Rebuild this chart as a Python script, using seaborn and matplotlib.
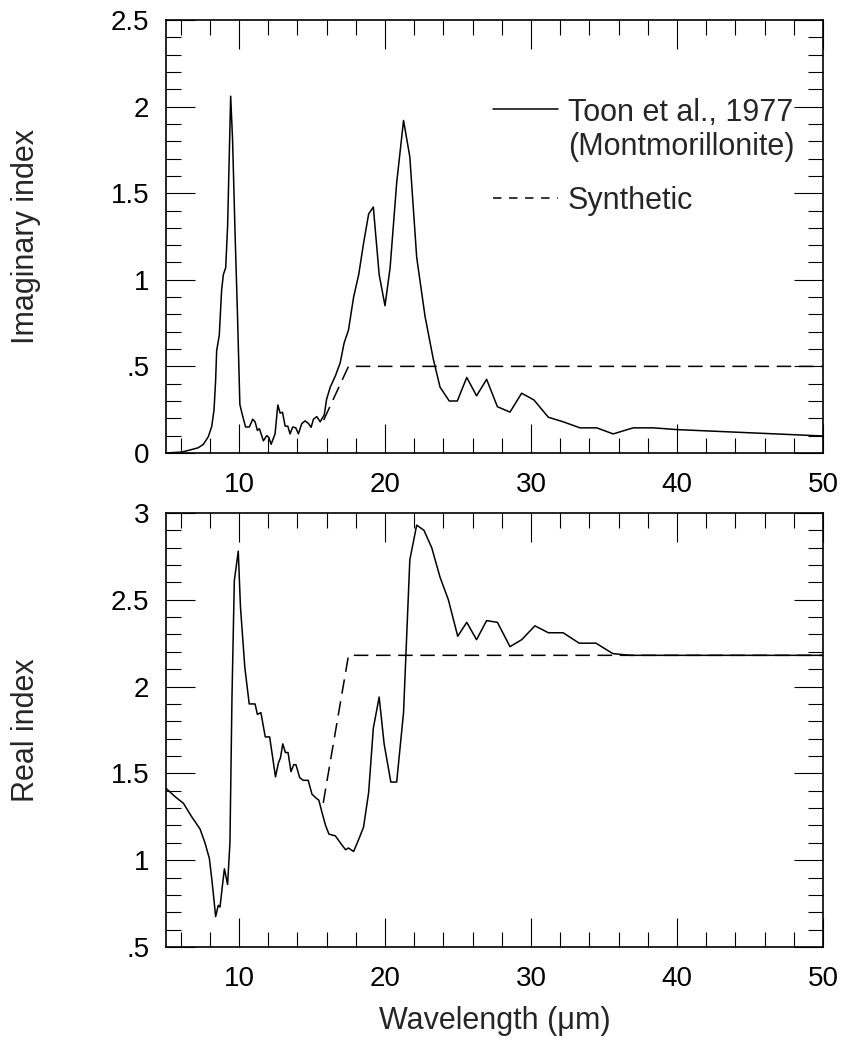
import numpy as np
import pandas as pd
import matplotlib
matplotlib.use("Agg")
import matplotlib.pyplot as plt
from matplotlib.ticker import MultipleLocator, FuncFormatter
from matplotlib.lines import Line2D
import seaborn as sns

# ---------------- data ----------------
imag_wl = [5.0, 6.07, 6.64, 7.21, 7.56, 7.9, 8.13, 8.29, 8.4, 8.47, 8.65, 8.81, 8.93, 9.09,
           9.22, 9.43, 9.56, 9.73, 9.89, 10.06, 10.23, 10.45, 10.71, 10.94, 11.1, 11.26, 11.4,
           11.67, 11.9, 12.04, 12.2, 12.47, 12.66, 12.82, 12.98, 13.16, 13.34, 13.5, 13.68,
           13.89, 14.07, 14.3, 14.53, 14.76, 14.94, 15.1, 15.33, 15.56, 15.84, 16.0, 16.25,
           16.6, 16.93, 17.2, 17.5, 17.85, 18.2, 18.53, 18.88, 19.2, 19.6, 20.0, 20.35, 20.8,
           21.27, 21.7, 22.17, 22.74, 23.3, 23.77, 24.4, 24.95, 25.6, 26.27, 26.96, 27.7,
           28.56, 29.36, 30.2, 31.19, 32.2, 33.35, 34.5, 35.63, 37.0, 38.38, 39.97, 50.0]
imag_toon = [0.0, 0.005, 0.017, 0.03, 0.05, 0.094, 0.152, 0.248, 0.42, 0.59, 0.68, 0.94, 1.03,
             1.07, 1.31, 2.06, 1.81, 1.27, 0.82, 0.28, 0.22, 0.15, 0.15, 0.195, 0.18, 0.13, 0.14,
             0.07, 0.10, 0.09, 0.05, 0.11, 0.277, 0.23, 0.235, 0.155, 0.155, 0.11, 0.15, 0.145,
             0.11, 0.17, 0.185, 0.17, 0.148, 0.195, 0.21, 0.18, 0.22, 0.31, 0.38, 0.445, 0.52,
             0.635, 0.71, 0.90, 1.03, 1.21, 1.38, 1.42, 1.03, 0.85, 1.07, 1.56, 1.92, 1.71, 1.13,
             0.79, 0.545, 0.38, 0.30, 0.30, 0.436, 0.33, 0.425, 0.267, 0.236, 0.345, 0.306,
             0.206, 0.18, 0.145, 0.145, 0.11, 0.145, 0.145, 0.135, 0.098]
imag_syn_wl = [15.8, 17.5, 50.0]
imag_syn = [0.19, 0.5, 0.5]

real_wl = [5.0, 5.62, 6.19, 6.76, 7.33, 7.67, 7.97, 8.13, 8.24, 8.4, 8.58, 8.7, 8.86, 9.0,
           9.22, 9.38, 9.52, 9.68, 9.95, 10.1, 10.4, 10.7, 11.1, 11.26, 11.5, 11.8, 12.1,
           12.5, 12.7, 12.84, 13.0, 13.18, 13.36, 13.56, 13.75, 13.9, 14.16, 14.4, 14.74,
           15.0, 15.25, 15.47, 15.7, 15.93, 16.16, 16.6, 16.94, 17.3, 17.5, 17.85, 18.2,
           18.53, 18.88, 19.2, 19.6, 19.94, 20.4, 20.8, 21.27, 21.7, 22.17, 22.67, 23.2,
           23.77, 24.34, 24.98, 25.6, 26.27, 26.96, 27.7, 28.56, 29.36, 30.27, 31.19, 32.2,
           33.3, 34.45, 35.6, 36.77, 50.0]
real_toon = [1.414, 1.366, 1.328, 1.25, 1.18, 1.10, 1.01, 0.896, 0.81, 0.675, 0.74, 0.73,
             0.85, 0.95, 0.86, 1.10, 1.94, 2.61, 2.78, 2.46, 2.11, 1.90, 1.90, 1.84, 1.85,
             1.71, 1.71, 1.48, 1.56, 1.59, 1.67, 1.62, 1.62, 1.51, 1.55, 1.55, 1.475, 1.46,
             1.46, 1.38, 1.36, 1.345, 1.27, 1.20, 1.15, 1.14, 1.10, 1.06, 1.07, 1.05, 1.12,
             1.19, 1.39, 1.76, 1.94, 1.67, 1.45, 1.45, 1.85, 2.73, 2.93, 2.90, 2.80, 2.63,
             2.50, 2.29, 2.37, 2.27, 2.38, 2.37, 2.23, 2.27, 2.35, 2.31, 2.31, 2.25, 2.25,
             2.19, 2.18, 2.18]
real_syn_wl = [15.77, 17.5, 50.0]
real_syn = [1.33, 2.18, 2.18]

legend_labels = ["Toon et al., 1977", "(Montmorillonite)", "Synthetic"]
xlabel = "Wavelength (\u03bcm)"
ylabels = ["Imaginary index", "Real index"]

# ---------------- style ----------------
sns.set_theme(style="ticks")
plt.rcParams["font.family"] = ["Liberation Sans", "DejaVu Sans"]
plt.rcParams["font.size"] = 20

fig = plt.figure(figsize=(8.43, 10.42), dpi=100)
ax1 = fig.add_axes([0.1969, 0.5653, 0.7794, 0.4155])
ax2 = fig.add_axes([0.1969, 0.0912, 0.7794, 0.4165])

LW = 1.1
DASH = (9.5, 5)

df_i = pd.DataFrame({"wl": imag_wl, "v": imag_toon})
df_is = pd.DataFrame({"wl": imag_syn_wl, "v": imag_syn})
df_r = pd.DataFrame({"wl": real_wl, "v": real_toon})
df_rs = pd.DataFrame({"wl": real_syn_wl, "v": real_syn})

sns.lineplot(data=df_is, x="wl", y="v", ax=ax1, color="black", lw=LW, sort=False,
             dashes=False, linestyle=(0, DASH))
sns.lineplot(data=df_i, x="wl", y="v", ax=ax1, color="black", lw=LW, sort=False)
sns.lineplot(data=df_rs, x="wl", y="v", ax=ax2, color="black", lw=LW, sort=False,
             dashes=False, linestyle=(0, DASH))
sns.lineplot(data=df_r, x="wl", y="v", ax=ax2, color="black", lw=LW, sort=False)


def yfmt(v, pos):
    s = f"{v:g}"
    if s.startswith("0."):
        s = s[1:]
    return s


for ax, (ylo, yhi), yl in [(ax1, (0, 2.5), ylabels[0]), (ax2, (0.5, 3.0), ylabels[1])]:
    ax.set_xlim(5, 50)
    ax.set_ylim(ylo, yhi)
    ax.xaxis.set_major_locator(MultipleLocator(10))
    ax.xaxis.set_minor_locator(MultipleLocator(2))
    ax.yaxis.set_major_locator(MultipleLocator(0.5))
    ax.yaxis.set_minor_locator(MultipleLocator(0.1))
    ax.yaxis.set_major_formatter(FuncFormatter(yfmt))
    ax.tick_params(which="both", direction="in", top=True, right=True,
                   labelsize=20, width=0.8, color="black", labelcolor="black")
    ax.tick_params(which="major", length=21)
    ax.tick_params(which="minor", length=10.5)
    ax.tick_params(axis="x", which="major", pad=14)
    ax.tick_params(axis="y", which="major", pad=12)
    for sp in ax.spines.values():
        sp.set_linewidth(1.2)
        sp.set_color("black")
    ax.set_ylabel(yl, fontsize=22)
    ax.set_xlabel("")

ax1.yaxis.set_label_coords(-0.19, 0.5)
ax2.yaxis.set_label_coords(-0.19, 0.5)
ax2.set_xlabel(xlabel, fontsize=22, labelpad=10)

# legend (drawn in axes coordinates)
ax1.add_line(Line2D([0.4977, 0.5967], [0.794, 0.794], transform=ax1.transAxes,
                    color="black", lw=LW))
ax1.add_line(Line2D([0.4977, 0.5967], [0.589, 0.589], transform=ax1.transAxes,
                    color="black", lw=LW, linestyle=(0, (5.5, 5))))
ax1.text(0.6119, 0.7667, legend_labels[0], transform=ax1.transAxes, fontsize=22,
         va="baseline", ha="left")
ax1.text(0.6119, 0.688, legend_labels[1], transform=ax1.transAxes, fontsize=22,
         va="baseline", ha="left")
ax1.text(0.6119, 0.5635, legend_labels[2], transform=ax1.transAxes, fontsize=22,
         va="baseline", ha="left")

fig.savefig("out.png", dpi=100)
